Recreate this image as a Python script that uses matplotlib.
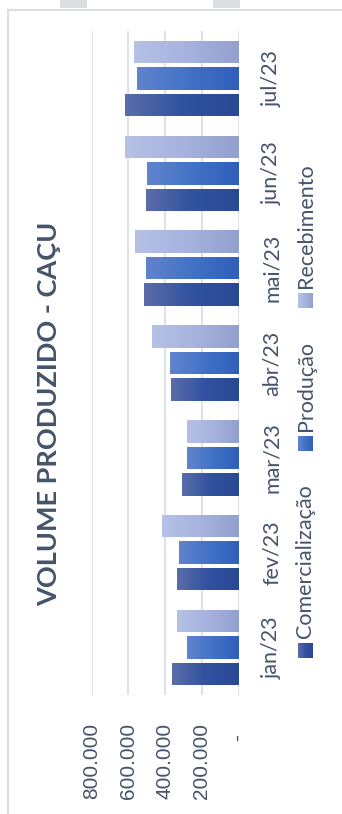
import numpy as np
import matplotlib
matplotlib.use("Agg")
import matplotlib.pyplot as plt
from matplotlib.colors import LinearSegmentedColormap
from matplotlib.patches import Rectangle
from matplotlib.ticker import FuncFormatter

# monthly volumes for Caçu
months = ["jan/23", "fev/23", "mar/23", "abr/23", "mai/23", "jun/23", "jul/23"]
comercializacao = [362000, 335000, 308000, 368000, 514000, 503000, 616000]
producao = [281000, 324000, 281000, 373000, 503000, 497000, 551000]
recebimento = [335000, 416000, 281000, 470000, 562000, 616000, 568000]
value_ticks = [0, 200000, 400000, 600000, 800000]

TEXT = "#44546a"
GRID = "#dfe2e8"
FONT = "Lato"

# gradient stops per series: far end of the bar -> base at zero
series = [
    ("Comercialização", comercializacao, -0.279, ["#5b6da8", "#3152a0", "#2a4994"]),
    ("Produção", producao, 0.0, ["#6283cd", "#4272c6", "#2f5fba"]),
    ("Recebimento", recebimento, 0.279, ["#b6c1e6", "#a7b3de", "#93a0ce"]),
]
bar_h = 0.237

W, H = 342, 814
fig = plt.figure(figsize=(W / 100, H / 100), dpi=100)
fig.patch.set_facecolor("white")

ax = fig.add_axes([91.5 / W, (H - 695) / H, (238.5 - 91.5) / W, (695 - 31) / H])
ax.set_facecolor("none")
ramp = np.linspace(0, 1, 256).reshape(1, -1)
y = np.arange(len(months))

cmaps = {}
for name, vals, off, stops in series:
    cmap = LinearSegmentedColormap.from_list(name, stops)
    cmaps[name] = cmap
    bars = ax.barh(y + off, vals, height=bar_h, color="none", lw=0, zorder=2)
    for b in bars:
        x1 = b.get_width()
        y0 = b.get_y()
        im = ax.imshow(ramp, cmap=cmap, aspect="auto", interpolation="bicubic",
                       extent=(x1, 0, y0, y0 + b.get_height()), zorder=3)
        im.set_clip_path(b)

ax.set_xlim(800000, 0)
ax.set_ylim(-0.5, len(months) - 0.5)
ax.set_xticks(value_ticks)
ax.xaxis.set_major_formatter(FuncFormatter(
    lambda v, p: "-\u2007" if v == 0 else f"{v:,.0f}".replace(",", ".")))
ax.grid(axis="x", color=GRID, lw=1.5, zorder=0)
ax.set_axisbelow(True)
for s in ax.spines.values():
    s.set_visible(False)

ax.set_yticks(y)
ax.set_yticklabels(months)
ax.yaxis.tick_right()
ax.tick_params(axis="y", length=0, pad=17, labelsize=15.5, labelcolor=TEXT,
               labelrotation=90)
ax.tick_params(axis="x", length=0, pad=20, labelsize=15, labelcolor=TEXT,
               labelrotation=90)
for t in ax.get_yticklabels():
    t.set_fontfamily(FONT)
    t.set_va("center")
for t in ax.get_xticklabels():
    t.set_fontfamily("Liberation Sans")

# overlay in pixel units for title, legend and frame
ov = fig.add_axes([0, 0, 1, 1], zorder=5)
ov.set_xlim(0, W)
ov.set_ylim(H, 0)
ov.axis("off")
ov.patch.set_alpha(0)

ov.plot([8, 8, W], [H, 10, 10], color="#dadde4", lw=1.5, solid_joinstyle="miter")
for x0 in (60, 213):
    ov.add_patch(Rectangle((x0, 0), 27, 8, color="#dcdde2", lw=0))

ov.text(49, 414, "VOLUME PRODUZIDO - CAÇU", rotation=90, ha="center", va="center",
        fontsize=19.5, fontweight="bold", color=TEXT, family=FONT)

# legend, stacked along the rotated axis
legend_pos = [("Comercialização", 658), ("Produção", 451), ("Recebimento", 308)]
for name, ybase in legend_pos:
    sq = Rectangle((298, ybase - 15), 15, 15, color="none", lw=0)
    ov.add_patch(sq)
    im = ov.imshow(ramp, cmap=cmaps[name], aspect="auto",
                   extent=(298, 313, ybase, ybase - 15), zorder=6)
    im.set_clip_path(sq)
    ov.text(305.5, ybase - 20, name, rotation=90, ha="center", va="bottom",
            fontsize=15.5, color=TEXT, family=FONT)
ov.set_xlim(0, W)
ov.set_ylim(H, 0)

fig.savefig("out.png", dpi=100)
